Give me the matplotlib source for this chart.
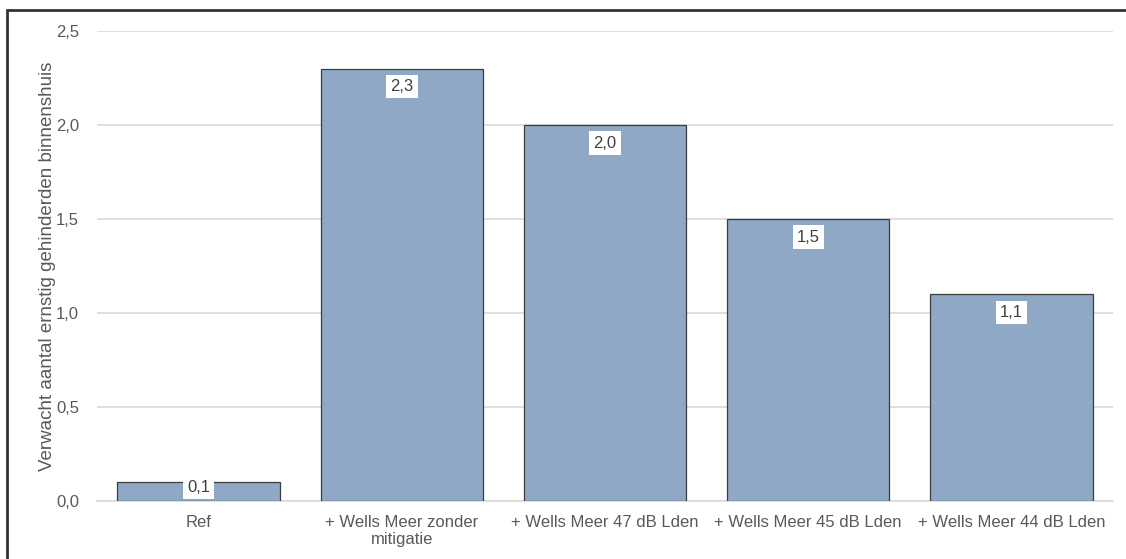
import numpy as np
import matplotlib.pyplot as plt
from matplotlib.patches import Rectangle

categories = ["Ref", "+ Wells Meer zonder\nmitigatie", "+ Wells Meer 47 dB Lden",
              "+ Wells Meer 45 dB Lden", "+ Wells Meer 44 dB Lden"]
values = [0.1, 2.3, 2.0, 1.5, 1.1]
yticks = [0.0, 0.5, 1.0, 1.5, 2.0, 2.5]

plt.rcParams['font.family'] = ['Liberation Sans', 'DejaVu Sans']

fig = plt.figure(figsize=(11.26, 5.59), dpi=100)
ax = fig.add_axes([97 / 1126, 1 - 501 / 559, (1113 - 97) / 1126, 470 / 559])

x = np.arange(len(categories))
ax.bar(x, values, 0.8, color="#8ea8c5", edgecolor="#3c3c3c", linewidth=0.9, zorder=3)

ax.set_xlim(-0.5, 4.5)
ax.set_ylim(0, 2.5)
ax.set_yticks(yticks)
ax.set_yticklabels([f"{t:.1f}".replace(".", ",") for t in yticks])
ax.set_xticks(x)
ax.set_xticklabels(categories, linespacing=1.2)
ax.tick_params(length=0, colors="#595959", labelsize=12)
ax.tick_params(axis="y", pad=13)
ax.tick_params(axis="x", pad=10)
ax.grid(axis="y", color="#d9d9d9", linewidth=1.2, zorder=0)
for s in ["top", "right", "left"]:
    ax.spines[s].set_visible(False)
ax.spines["bottom"].set_color("#d9d9d9")
ax.spines["bottom"].set_linewidth(1.2)
ax.set_ylabel("Verwacht aantal ernstig gehinderden binnenshuis", color="#595959",
              fontsize=13.5, labelpad=0)

for xi, v in zip(x, values):
    dy = min(18, v * 188 * 0.27)
    ax.annotate(f"{v:.1f}".replace(".", ","), (xi, v), xytext=(0, -dy),
                textcoords="offset pixels", ha="center", va="center",
                fontsize=12, color="#404040", zorder=5,
                bbox=dict(boxstyle="square,pad=0.25", fc="white", ec="none"))

# outer frame (cut off at right and bottom)
fig.patches.append(Rectangle((7 / 1126, -0.05), 1.2, 0.05 + (559 - 10) / 559,
                             transform=fig.transFigure, fill=False,
                             edgecolor="#333333", linewidth=2))

fig.savefig("out.png", dpi=100)
